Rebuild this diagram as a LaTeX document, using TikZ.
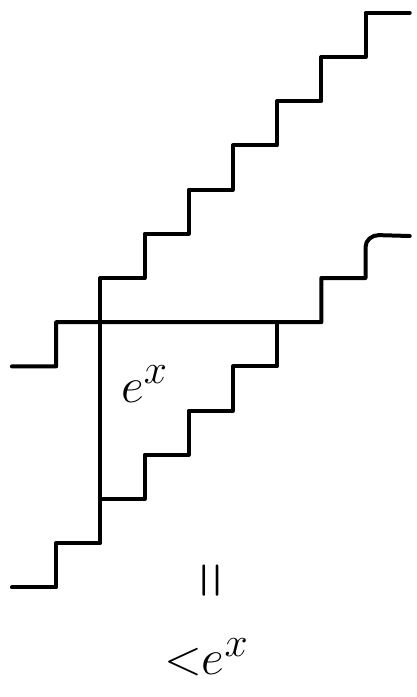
\documentclass[tikz,border=0pt]{standalone}
\tikzset{stairln/.style={line width=2pt,line cap=round,line join=round},
         handlab/.style={font=\Huge,inner sep=0pt}}
\begin{document}
\begin{tikzpicture}[x=22.1pt,y=-22.1pt]
  \useasboundingbox (-0.27,-0.29) rectangle (9.16,15.48);
  % upper staircase
  \draw[stairln] (0,13)--(1,13)--(1,12)--(2,12)
    \foreach \k in {2,...,8} {--(\k,8-\k)--(\k+1,8-\k)};
  % lower staircase
  \draw[stairln] (0,8)--(1,8)--(1,7)--(7,7)--(7,6)--(8,6)--(8,5.3)
    to[out=90,in=180] (8.3,5.03)--(9,5.05);
  % steps inside the region
  \draw[stairln] (6,7) \foreach \k in {6,...,3} {--(\k,14-\k)--(\k-1,14-\k)};
  \node[handlab] (area) at (3.0,8.4) {$e^x$};
  \node[handlab] (eqsign) at (4.62,12.84) {\rotatebox{90}{\scalebox{1.0}[1.5]{$=$}}};
  \node[handlab] (bound) at (4.4,14.58) {${<}e^x$};
\end{tikzpicture}
\end{document}
